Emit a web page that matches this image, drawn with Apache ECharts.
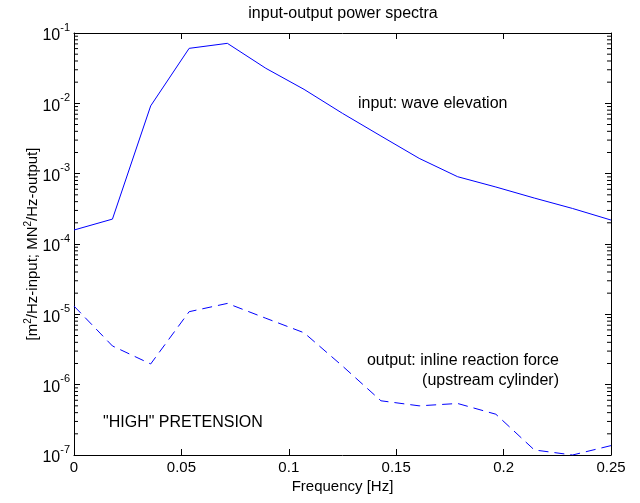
<!DOCTYPE html>
<html>
<head>
<meta charset="utf-8">
<script src="https://cdn.jsdelivr.net/npm/echarts@6/dist/echarts.min.js"></script>
<style>
html,body{margin:0;padding:0;background:#fff;}
#chart{width:640px;height:503px;}
</style>
</head>
<body>
<div id="chart"></div>
<script>
// Frequencies [Hz]
var freq = [0, 0.0179, 0.0357, 0.0536, 0.0714, 0.0893, 0.1071, 0.125, 0.1429, 0.1607, 0.1786, 0.1964, 0.2143, 0.2321, 0.25];
// input: wave elevation spectrum [m^2/Hz]
var inputSpec = [1.58e-4, 2.26e-4, 9.2e-3, 0.0605, 0.0713, 0.0315, 0.0158, 7.2e-3, 3.43e-3, 1.65e-3, 9.05e-4, 6.46e-4, 4.5e-4, 3.2e-4, 2.19e-4];
// output: inline reaction force spectrum [MN^2/Hz]
var outputSpec = [1.31e-5, 3.55e-6, 1.97e-6, 1.09e-5, 1.43e-5, 8.8e-6, 5.47e-6, 1.84e-6, 5.9e-7, 5.0e-7, 5.4e-7, 3.8e-7, 1.18e-7, 1.0e-7, 1.36e-7];
// axis ticks
var xTicks = [0, 0.05, 0.1, 0.15, 0.2, 0.25];
var yDecades = [-7, -6, -5, -4, -3, -2, -1];
var minorMult = [2, 3, 4, 5, 6, 7, 8, 9];

var FONT = 'Liberation Sans, Arial, Helvetica, sans-serif';

var minorVals = [];
for (var i = 0; i < yDecades.length - 1; i++) {
  for (var j = 0; j < minorMult.length; j++) {
    minorVals.push([0, minorMult[j] * Math.pow(10, yDecades[i])]);
  }
}

function pairs(xs, ys) {
  return xs.map(function (x, i) { return [x, ys[i]]; });
}

var chart = echarts.init(document.getElementById('chart'), null, {renderer: 'canvas'});

function axisCommon() {
  return {
    axisLine: {show: true, onZero: false, lineStyle: {color: '#000', width: 1}},
    axisTick: {show: true, inside: true, length: 6, lineStyle: {color: '#000', width: 1}},
    splitLine: {show: false},
    minorTick: {show: false},
    minorSplitLine: {show: false}
  };
}

var option = {
  backgroundColor: '#fff',
  animation: false,
  grid: {left: 74, right: 29, top: 33, bottom: 48, containLabel: false},
  xAxis: [
    Object.assign({
      type: 'value', min: 0, max: 0.25, interval: 0.05, position: 'bottom',
      name: 'Frequency [Hz]', nameLocation: 'middle', nameGap: 24, nameMoveOverlap: false,
      nameTextStyle: {fontFamily: FONT, fontSize: 15, color: '#000'},
      axisLabel: {fontFamily: FONT, fontSize: 15, color: '#000', margin: 5,
        formatter: function (v) { return String(+v.toFixed(2)); }}
    }, axisCommon()),
    Object.assign({
      type: 'value', min: 0, max: 0.25, interval: 0.05, position: 'top',
      axisLabel: {show: false}
    }, axisCommon())
  ],
  yAxis: [
    Object.assign({
      type: 'log', logBase: 10, min: 1e-7, max: 1e-1, splitNumber: 6, position: 'left',
      name: '[m{s|2}/Hz-input; MN{s|2}/Hz-output]',
      nameLocation: 'middle', nameGap: 32, nameRotate: 90, nameMoveOverlap: false,
      nameTextStyle: {fontFamily: FONT, fontSize: 15, color: '#000', lineHeight: 19,
        rich: {s: {fontFamily: FONT, fontSize: 10, color: '#000', verticalAlign: 'top', lineHeight: 19}}},
      axisLabel: {
        fontFamily: FONT, color: '#000', margin: 4,
        formatter: function (v) { return '{b|10}{s|' + Math.round(Math.log10(v)) + '}'; },
        rich: {
          b: {fontFamily: FONT, fontSize: 16, color: '#000', lineHeight: 22, verticalAlign: 'bottom'},
          s: {fontFamily: FONT, fontSize: 11, color: '#000', lineHeight: 22, verticalAlign: 'top'}
        }
      }
    }, axisCommon()),
    Object.assign({
      type: 'log', logBase: 10, min: 1e-7, max: 1e-1, splitNumber: 6, position: 'right',
      axisLabel: {show: false}
    }, axisCommon())
  ],
  series: [
    {
      name: 'input: wave elevation', type: 'line', xAxisIndex: 0, yAxisIndex: 0,
      data: pairs(freq, inputSpec), showSymbol: false, symbol: 'none',
      lineStyle: {color: '#0000ff', width: 1, type: 'solid'}, silent: true
    },
    {
      name: 'output: inline reaction force', type: 'line', xAxisIndex: 0, yAxisIndex: 0,
      data: pairs(freq, outputSpec), showSymbol: false, symbol: 'none',
      lineStyle: {color: '#0000ff', width: 1, type: [10, 6]}, silent: true
    },
    {
      name: 'minor ticks', type: 'custom', xAxisIndex: 0, yAxisIndex: 0, silent: true, clip: false,
      data: minorVals,
      renderItem: function (params, api) {
        var v = api.value(1);
        var pl = api.coord([0, v]);
        var pr = api.coord([0.25, v]);
        return {
          type: 'group',
          children: [
            {type: 'line', shape: {x1: pl[0], y1: pl[1], x2: pl[0] + 4, y2: pl[1]}, style: {stroke: '#000', lineWidth: 1}},
            {type: 'line', shape: {x1: pr[0], y1: pr[1], x2: pr[0] - 4, y2: pr[1]}, style: {stroke: '#000', lineWidth: 1}}
          ]
        };
      }
    }
  ],
  graphic: [
    {type: 'text', x: 343, y: 14, style: {text: 'input-output power spectra', font: '16px ' + FONT, fill: '#000', textAlign: 'center', textVerticalAlign: 'middle'}},
    {type: 'text', x: 358, y: 104, style: {text: 'input: wave elevation', font: '16px ' + FONT, fill: '#000', textAlign: 'left', textVerticalAlign: 'middle'}},
    {type: 'text', x: 559, y: 361, style: {text: 'output: inline reaction force', font: '16px ' + FONT, fill: '#000', textAlign: 'right', textVerticalAlign: 'middle'}},
    {type: 'text', x: 559, y: 381, style: {text: '(upstream cylinder)', font: '16px ' + FONT, fill: '#000', textAlign: 'right', textVerticalAlign: 'middle'}},
    {type: 'text', x: 103, y: 423, style: {text: '"HIGH" PRETENSION', font: '16px ' + FONT, fill: '#000', textAlign: 'left', textVerticalAlign: 'middle'}}
  ]
};
chart.setOption(option);
</script>
</body>
</html>
